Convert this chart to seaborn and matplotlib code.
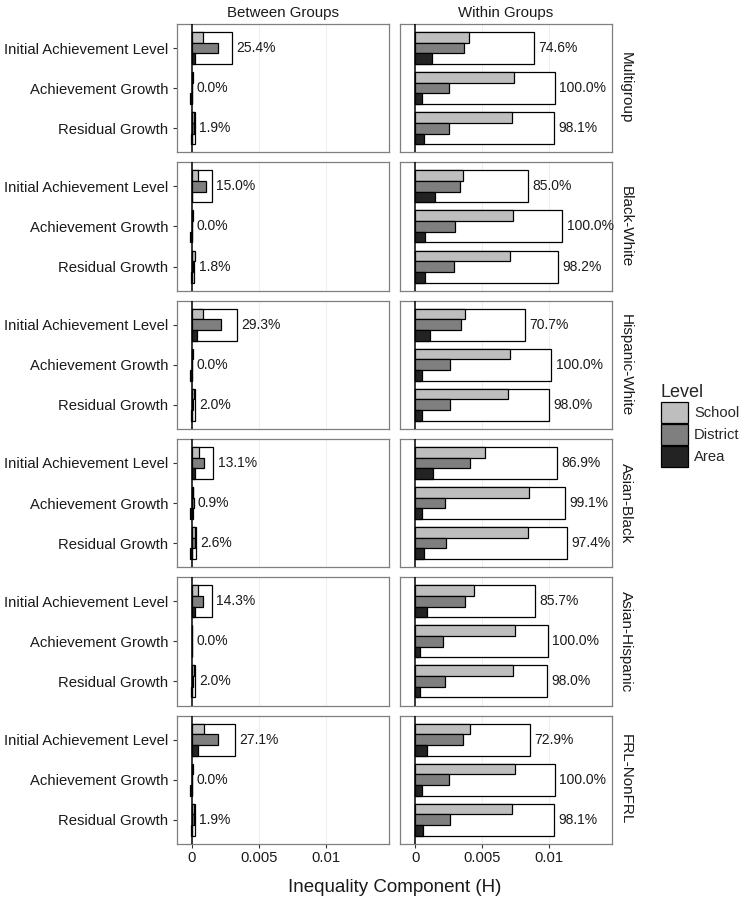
import pandas as pd
import matplotlib
matplotlib.use('Agg')
import matplotlib.pyplot as plt
import seaborn as sns
from matplotlib.patches import Patch

comparisons = ['Multigroup', 'Black-White', 'Hispanic-White', 'Asian-Black',
               'Asian-Hispanic', 'FRL-NonFRL']
components = ['Between Groups', 'Within Groups']
measures = ['Initial Achievement Level', 'Achievement Growth', 'Residual Growth']
levels = ['School', 'District', 'Area']
level_colors = ['#BEBEBE', '#7F7F7F', '#232323']

# H by level, one row per measure: [School, District, Area]
between_h = {
    'Multigroup':     [[0.00085, 0.00192, 0.00022], [0.00010, 0.00004, -0.00014], [0.00018, 0.00012, -0.00010]],
    'Black-White':    [[0.00047, 0.00102, 0.00002], [0.00010, 0.00003, -0.00013], [0.00020, 0.00008, -0.00010]],
    'Hispanic-White': [[0.00085, 0.00215, 0.00040], [0.00010, 0.00003, -0.00013], [0.00018, 0.00010, -0.00008]],
    'Asian-Black':    [[0.00050, 0.00090, 0.00020], [0.00010, 0.00012, -0.00012], [0.00020, 0.00025, -0.00015]],
    'Asian-Hispanic': [[0.00047, 0.00082, 0.00020], [0.00001, 0.00000, -0.00001], [0.00015, 0.00010, -0.00005]],
    'FRL-NonFRL':     [[0.00087, 0.00192, 0.00042], [0.00008, 0.00004, -0.00012], [0.00018, 0.00012, -0.00010]],
}
within_h = {
    'Multigroup':     [[0.00402, 0.00362, 0.00122], [0.00741, 0.00252, 0.00053], [0.00723, 0.00252, 0.00063]],
    'Black-White':    [[0.00357, 0.00337, 0.00150], [0.00731, 0.00299, 0.00070], [0.00710, 0.00289, 0.00070]],
    'Hispanic-White': [[0.00369, 0.00342, 0.00112], [0.00710, 0.00257, 0.00050], [0.00693, 0.00260, 0.00050]],
    'Asian-Black':    [[0.00519, 0.00411, 0.00132], [0.00850, 0.00219, 0.00050], [0.00843, 0.00232, 0.00062]],
    'Asian-Hispanic': [[0.00436, 0.00369, 0.00090], [0.00743, 0.00209, 0.00037], [0.00731, 0.00219, 0.00037]],
    'FRL-NonFRL':     [[0.00411, 0.00357, 0.00087], [0.00743, 0.00249, 0.00050], [0.00720, 0.00260, 0.00055]],
}
between_pct = {
    'Multigroup': ['25.4%', '0.0%', '1.9%'],
    'Black-White': ['15.0%', '0.0%', '1.8%'],
    'Hispanic-White': ['29.3%', '0.0%', '2.0%'],
    'Asian-Black': ['13.1%', '0.9%', '2.6%'],
    'Asian-Hispanic': ['14.3%', '0.0%', '2.0%'],
    'FRL-NonFRL': ['27.1%', '0.0%', '1.9%'],
}
within_pct = {
    'Multigroup': ['74.6%', '100.0%', '98.1%'],
    'Black-White': ['85.0%', '100.0%', '98.2%'],
    'Hispanic-White': ['70.7%', '100.0%', '98.0%'],
    'Asian-Black': ['86.9%', '99.1%', '97.4%'],
    'Asian-Hispanic': ['85.7%', '100.0%', '98.0%'],
    'FRL-NonFRL': ['72.9%', '100.0%', '98.1%'],
}

sns.set_style('white')
plt.rcParams['font.family'] = ['Liberation Sans', 'DejaVu Sans']

W, H = 744, 901
fig = plt.figure(figsize=(W / 100, H / 100), dpi=100)

col_left = [176.7, 400.0]
col_w = 212.0
row_top, row_h, row_gap = 24.0, 128.3, 10.0
xlim = (-0.00114, 0.0147)


def build_frame(data, comp):
    rows = []
    for m, vals in zip(measures, data[comp]):
        for lev, v in zip(levels, vals):
            rows.append({'measure': m, 'level': lev, 'H': v})
    return pd.DataFrame(rows)


for r, comp in enumerate(comparisons):
    for c, (data, pct) in enumerate([(between_h, between_pct), (within_h, within_pct)]):
        top = row_top + r * (row_h + row_gap)
        ax = fig.add_axes([col_left[c] / W, 1 - (top + row_h) / H, col_w / W, row_h / H])
        df = build_frame(data, comp)
        totals = df.groupby('measure', sort=False)['H'].sum().reindex(measures).reset_index()

        # light grid at the major x ticks
        for gx in [0.005, 0.01]:
            ax.axvline(gx, color='#EBEBEB', lw=0.6, zorder=0)

        sns.barplot(data=totals, x='H', y='measure', order=measures, color='white',
                    edgecolor='black', linewidth=0.9, width=0.8, ax=ax,
                    orient='h', errorbar=None, saturation=1)
        sns.barplot(data=df, x='H', y='measure', hue='level', order=measures,
                    hue_order=levels, palette=level_colors, edgecolor='black',
                    linewidth=0.9, width=0.8, ax=ax, orient='h', errorbar=None,
                    saturation=1, legend=False)
        ax.axvline(0, color='black', lw=1.1, zorder=5)

        for i, (t, lab) in enumerate(zip(totals['H'], pct[comp])):
            ax.annotate(lab, xy=(max(t, 0), i), xytext=(3, 0), textcoords='offset points',
                        ha='left', va='center', fontsize=10, color='#1a1a1a')

        ax.set_xlim(*xlim)
        ax.set_ylim(2.6, -0.6)
        ax.set_xlabel('')
        ax.set_ylabel('')
        ax.set_xticks([0, 0.005, 0.01])
        for s in ax.spines.values():
            s.set_color('#7F7F7F')
            s.set_linewidth(0.9)

        if c == 0:
            ax.tick_params(axis='y', length=3, width=0.8, color='#333333',
                           labelsize=10.7, labelcolor='#1a1a1a', pad=3, left=True)
        else:
            ax.tick_params(axis='y', left=False, labelleft=False)
        if r == len(comparisons) - 1:
            ax.set_xticklabels(['0', '0.005', '0.01'])
            ax.tick_params(axis='x', length=3, width=0.8, color='#333333',
                           labelsize=10.6, labelcolor='#1a1a1a', pad=2, bottom=True)
        else:
            ax.tick_params(axis='x', bottom=False, labelbottom=False)

        if r == 0:
            ax.set_title(components[c], fontsize=10.8, color='#1a1a1a', pad=5)
        if c == 1:
            ax.text(1.065, 0.5, comp, transform=ax.transAxes, rotation=270,
                    ha='center', va='center', fontsize=11, color='#1a1a1a')

fig.text((col_left[0] + col_left[1] + col_w) / 2 / W, 1 - 888 / H,
         'Inequality Component (H)', ha='center', va='center', fontsize=13.5,
         color='#1a1a1a')

handles = [Patch(facecolor=col, edgecolor='black', linewidth=0.9) for col in level_colors]
leg = fig.legend(handles, levels, title='Level', loc='upper left',
                 bbox_to_anchor=(661 / W, 1 - 384 / H), frameon=False,
                 fontsize=10.6, title_fontsize=13, handlelength=1.8,
                 handleheight=1.8, labelspacing=0.08, handletextpad=0.45,
                 borderaxespad=0, borderpad=0, alignment='left')

fig.savefig('out.png', dpi=100)
